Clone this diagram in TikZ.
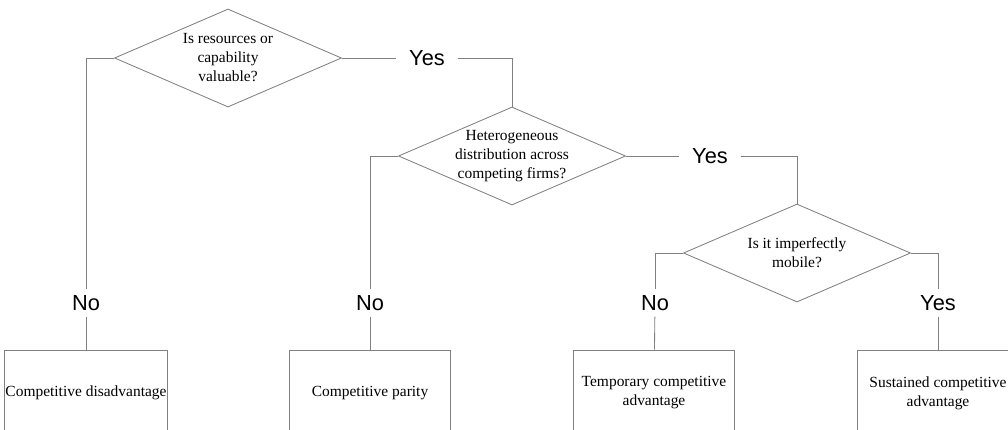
\documentclass[tikz,border=0pt]{standalone}
\usepackage{fontspec}
\setmainfont{Liberation Serif}
\newfontfamily\answerfont{Liberation Sans}
\usetikzlibrary{shapes.geometric}

\begin{document}
\begin{tikzpicture}[x=0.025cm, y=-0.025cm,
	every node/.style={font=\fontsize{11}{13.5}\selectfont},
	decision/.style={draw=black!50, line width=0.6pt, shape=diamond, aspect=2.3, inner sep=-2pt, minimum width=5.675cm, minimum height=2.45cm, align=center},
	outcome/.style={draw=black!50, line width=0.6pt, rectangle, inner xsep=0.5pt, minimum width=4.025cm, minimum height=2.15cm, align=center},
	answer/.style={font=\answerfont\fontsize{15.5}{18}\selectfont, inner xsep=9pt, inner ysep=4pt},
	link/.style={draw=black!50, line width=0.6pt}]
	\clip (0,0) rectangle (1008,429);
	% questions
	\node[decision] (valuable) at (228,58) {Is resources or\\capability\\valuable?};
	\node[decision] (hetero) at (512,156) {Heterogeneous\\distribution across\\competing firms?};
	\node[decision] (mobile) at (797,253) {Is it imperfectly\\mobile?};
	% answers
	\node[answer] (yes1) at (427,58) {Yes};
	\node[answer] (yes2) at (710,156) {Yes};
	\node[answer] (no1) at (86,303) {No};
	\node[answer] (no2) at (370,303) {No};
	\node[answer] (no3) at (655,303) {No};
	\node[answer] (yes3) at (938,303) {Yes};
	% outcomes
	\node[outcome] (disadv) at (86,393) {Competitive disadvantage};
	\node[outcome] (parity) at (370,393) {Competitive parity};
	\node[outcome] (temp) at (654,393) {Temporary competitive\\advantage};
	\node[outcome] (sust) at (938,393) {Sustained competitive\\advantage};
	% connectors
	\draw[link] (valuable.east) -- (yes1);
	\draw[link] (yes1) -| (hetero.north);
	\draw[link] (valuable.west) -| (no1.north);
	\draw[link] (no1) -- (disadv);
	\draw[link] (hetero.east) -- (yes2);
	\draw[link] (yes2) -| (mobile.north);
	\draw[link] (hetero.west) -| (no2.north);
	\draw[link] (no2) -- (parity);
	\draw[link] (mobile.west) -| (no3.north);
	\draw[link] (no3) -- (temp);
	\draw[link] (mobile.east) -| (yes3.north);
	\draw[link] (yes3) -- (sust);
\end{tikzpicture}
\end{document}
